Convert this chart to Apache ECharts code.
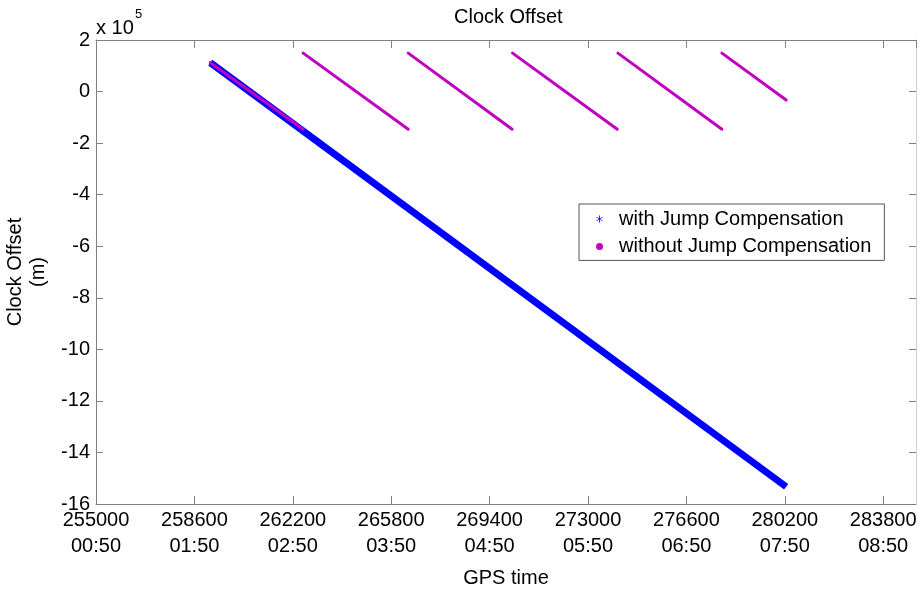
<!DOCTYPE html>
<html>
<head>
<meta charset="utf-8">
<script src="https://cdn.jsdelivr.net/npm/echarts@6/dist/echarts.min.js"></script>
<style>
html,body{margin:0;padding:0;background:#fff;}
#chart{width:923px;height:589px;}
</style>
</head>
<body>
<div id="chart"></div>
<script>
// X tick labels (GPS seconds of week and clock time)
const xTickValues = [255000, 258600, 262200, 265800, 269400, 273000, 276600, 280200, 283800];
const xTickTimes = ['00:50', '01:50', '02:50', '03:50', '04:50', '05:50', '06:50', '07:50', '08:50'];

// Series: with Jump Compensation (continuous drift)
const blueT = [259180, 280250];
const blueV = [112000, -1533000];

// Series: without Jump Compensation (wraps at the 1 ms jumps)
const magentaStartT = [259180, 262580, 266424, 270240, 274095, 277899];
const magentaStartV = [112000, 149000, 149000, 149000, 149000, 149000];
const magentaEndT = [262580, 266424, 270225, 274071, 277899, 280250];
const magentaEndV = [-146000, -146000, -146000, -146000, -146000, -33000];

const FONT = '"Liberation Sans", Arial, Helvetica, sans-serif';
const AXIS_GRAY = '#808080';
const BLUE = '#0000ff';
const MAGENTA = '#c000c0';
const nameWith = 'with Jump Compensation';
const nameWithout = 'without Jump Compensation';

const chart = echarts.init(document.getElementById('chart'), null, {renderer: 'canvas'});

const blueData = blueT.map((t, i) => [t, blueV[i]]);
const magentaSeries = magentaStartT.map((t, i) => ({
  name: nameWithout,
  type: 'line',
  data: [[t, magentaStartV[i]], [magentaEndT[i], magentaEndV[i]]],
  showSymbol: false,
  symbol: 'circle',
  color: MAGENTA,
  lineStyle: {color: MAGENTA, width: 3, cap: 'round'},
  animation: false,
  z: 3
}));

const xLabelFmt = function (v) {
  const idx = xTickValues.indexOf(Math.round(v));
  if (idx < 0) return '';
  return xTickValues[idx] + '\n' + xTickTimes[idx];
};

const option = {
  animation: false,
  backgroundColor: '#fff',
  textStyle: {fontFamily: FONT},
  title: {
    text: 'Clock Offset',
    left: 449,
    top: 2,
    textStyle: {fontFamily: FONT, fontSize: 20, fontWeight: 'normal', color: '#000'}
  },
  grid: {left: 96, right: 7, top: 40, bottom: 85, containLabel: false, outerBoundsMode: 'none'},
  legend: {
    left: 579,
    top: 204,
    orient: 'vertical',
    padding: [5, 13, 4, 17],
    itemGap: 7.4,
    itemWidth: 7,
    itemHeight: 7,
    borderColor: '#555',
    borderWidth: 1,
    backgroundColor: '#fff',
    textStyle: {fontFamily: FONT, fontSize: 20, lineHeight: 20, color: '#000', padding: [0, 0, 0, 11]},
    data: [
      {name: nameWith, icon: 'path://M4.4 0H5.6V10H4.4Z M0.9 2.0L9.4 7.0L8.8 8.0L0.3 3.0Z M9.1 2.0L9.7 3.0L1.2 8.0L0.6 7.0Z'},
      {name: nameWithout, icon: 'circle'}
    ]
  },
  xAxis: [{
    type: 'value',
    position: 'bottom',
    min: 255000,
    max: 285000,
    interval: 3600,
    splitLine: {show: false},
    axisLine: {show: true, onZero: false, lineStyle: {color: AXIS_GRAY, width: 1}},
    axisTick: {show: true, inside: true, length: 8, lineStyle: {color: AXIS_GRAY}},
    axisLabel: {
      color: '#000', fontFamily: FONT, fontSize: 20, lineHeight: 26, margin: 3,
      showMaxLabel: false,
      formatter: xLabelFmt
    },
    name: 'GPS time',
    nameLocation: 'middle',
    nameGap: 64,
    nameTextStyle: {color: '#000', fontFamily: FONT, fontSize: 20}
  }, {
    type: 'value',
    position: 'top',
    min: 255000,
    max: 285000,
    interval: 3600,
    splitLine: {show: false},
    axisLine: {show: true, onZero: false, lineStyle: {color: AXIS_GRAY, width: 1}},
    axisTick: {show: true, inside: true, length: 8, lineStyle: {color: AXIS_GRAY}},
    axisLabel: {show: false}
  }],
  yAxis: [{
    type: 'value',
    position: 'left',
    min: -1600000,
    max: 200000,
    interval: 200000,
    splitLine: {show: false},
    axisLine: {show: true, onZero: false, lineStyle: {color: AXIS_GRAY, width: 1}},
    axisTick: {show: true, inside: true, length: 7, lineStyle: {color: AXIS_GRAY}},
    axisLabel: {
      color: '#000', fontFamily: FONT, fontSize: 20, margin: 6,
      formatter: function (v) { return String(Math.round(v / 100000)); }
    },
    name: 'Clock Offset\n(m)',
    nameLocation: 'middle',
    nameGap: 43,
    nameRotate: 90,
    nameTextStyle: {color: '#000', fontFamily: FONT, fontSize: 20, lineHeight: 23}
  }, {
    type: 'value',
    position: 'right',
    min: -1600000,
    max: 200000,
    interval: 200000,
    splitLine: {show: false},
    axisLine: {show: true, onZero: false, lineStyle: {color: '#d0d0d0', width: 1}},
    axisTick: {show: true, inside: true, length: 7, lineStyle: {color: AXIS_GRAY}},
    axisLabel: {show: false}
  }],
  graphic: [
    {type: 'text', left: 96, top: 18, style: {text: 'x 10', font: '20px ' + FONT, fill: '#000'}},
    {type: 'text', left: 135, top: 8, style: {text: '5', font: '13px ' + FONT, fill: '#000'}}
  ],
  series: [{
    name: nameWith,
    type: 'line',
    data: blueData,
    showSymbol: false,
    symbol: 'circle',
    color: BLUE,
    lineStyle: {color: BLUE, width: 7},
    z: 2
  }].concat(magentaSeries)
};

chart.setOption(option);
</script>
</body>
</html>
